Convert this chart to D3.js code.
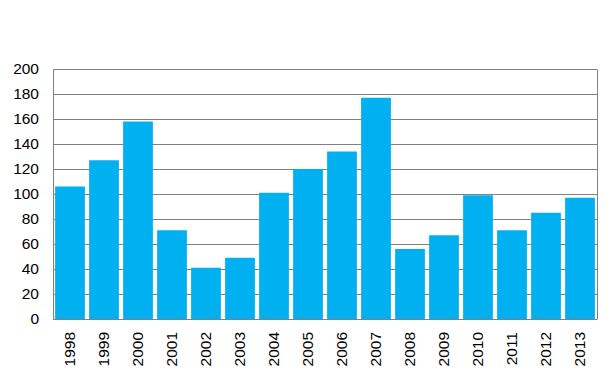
<!DOCTYPE html>
<html>
<head>
<meta charset="utf-8">
<script src="https://cdn.jsdelivr.net/npm/d3@7.9.0/dist/d3.min.js"></script>
<style>
  body { margin: 0; background: #fff; }
  svg { display: block; font-family: 'Liberation Sans', Arial, sans-serif; }
</style>
</head>
<body>
<div id="chart"></div>
<script>
const years = ['1998', '1999', '2000', '2001', '2002', '2003', '2004', '2005',
  '2006', '2007', '2008', '2009', '2010', '2011', '2012', '2013'];
const values = [106, 127, 158, 71, 41, 49, 101, 120, 134, 177, 56, 67, 99, 71, 85, 97];
const yTicks = [0, 20, 40, 60, 80, 100, 120, 140, 160, 180, 200];

const width = 616, height = 380;
const margin = { top: 69, right: 19, bottom: 61, left: 53 };

const svg = d3.select('#chart').append('svg')
  .attr('width', width)
  .attr('height', height);

const x = d3.scaleBand()
  .domain(years)
  .range([margin.left, width - margin.right])
  .paddingInner(0.125)
  .paddingOuter(0.0625);

const y = d3.scaleLinear()
  .domain([0, 200])
  .range([height - margin.bottom, margin.top]);

// gridlines
svg.append('g')
  .selectAll('line')
  .data(yTicks)
  .join('line')
  .attr('x1', margin.left)
  .attr('x2', width - margin.right)
  .attr('y1', d => Math.round(y(d)) + 0.5)
  .attr('y2', d => Math.round(y(d)) + 0.5)
  .attr('stroke', '#808080')
  .attr('stroke-width', 1);

// side borders
svg.append('g')
  .selectAll('line')
  .data([margin.left, width - margin.right])
  .join('line')
  .attr('x1', d => d + 0.5)
  .attr('x2', d => d + 0.5)
  .attr('y1', Math.round(y(200)) + 0.5)
  .attr('y2', Math.round(y(0)) + 0.5)
  .attr('stroke', '#808080');

// bars
svg.append('g')
  .selectAll('rect')
  .data(values)
  .join('rect')
  .attr('x', (d, i) => x(years[i]))
  .attr('width', x.bandwidth())
  .attr('y', d => y(d))
  .attr('height', d => y(0) - y(d))
  .attr('fill', '#00B0F0');

// baseline
svg.append('line')
  .attr('x1', margin.left)
  .attr('x2', width - margin.right)
  .attr('y1', Math.round(y(0)) + 0.5)
  .attr('y2', Math.round(y(0)) + 0.5)
  .attr('stroke', '#808080');

// y labels
svg.append('g')
  .selectAll('text')
  .data(yTicks)
  .join('text')
  .attr('x', margin.left - 14)
  .attr('y', d => y(d))
  .attr('dy', '0.35em')
  .attr('text-anchor', 'end')
  .attr('font-size', 15.5)
  .attr('fill', '#000')
  .text(d => d);

// x labels (rotated)
svg.append('g')
  .selectAll('text')
  .data(years)
  .join('text')
  .attr('transform', d => `translate(${x(d) + x.bandwidth() / 2}, ${y(0) + 13}) rotate(-90)`)
  .attr('dy', '0.35em')
  .attr('text-anchor', 'end')
  .attr('font-size', 15.5)
  .attr('fill', '#000')
  .text(d => d);
</script>
</body>
</html>
